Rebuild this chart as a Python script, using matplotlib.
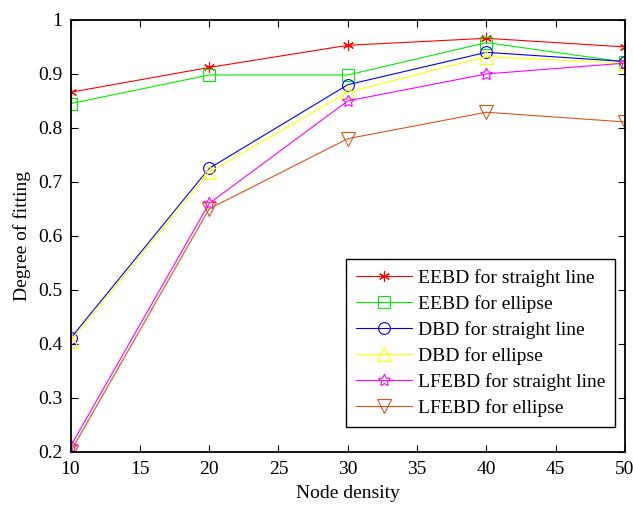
import numpy as np
import matplotlib.pyplot as plt

plt.rcParams['font.family'] = ['Liberation Serif', 'DejaVu Serif']
plt.rcParams['font.size'] = 14

x = [10, 20, 30, 40, 50]
eebd_line = [0.866, 0.912, 0.953, 0.966, 0.950]
eebd_ellipse = [0.845, 0.898, 0.898, 0.958, 0.922]
dbd_line = [0.410, 0.725, 0.880, 0.940, 0.923]
dbd_ellipse = [0.405, 0.718, 0.866, 0.932, 0.920]
lfebd_line = [0.210, 0.660, 0.850, 0.900, 0.920]
lfebd_ellipse = [0.200, 0.650, 0.780, 0.829, 0.811]

labels = ["EEBD for straight line", "EEBD for ellipse", "DBD for straight line",
          "DBD for ellipse", "LFEBD for straight line", "LFEBD for ellipse"]

fig = plt.figure(figsize=(6.33, 5.05), dpi=100)
ax = fig.add_axes([0.1114, 0.1055, 0.876, 0.855])

series = [eebd_line, eebd_ellipse, dbd_line, dbd_ellipse, lfebd_line, lfebd_ellipse]
colors = ["#ff0000", "#00ee00", "#0000ff", "#ffff00", "#ff00ff", "#d9541a"]
markers = [(6, 2, 0), "s", "o", "^", (5, 1, 0), "v"]
sizes = [8, 8.5, 8.5, 9.5, 9, 9.5]

for ys, c, m, ms, lab in zip(series, colors, markers, sizes, labels):
    ax.plot(x, ys, color=c, lw=0.8, marker=m, ms=ms, mfc="none",
            mec=c, mew=0.8, label=lab)

ax.set_xlim(10, 50)
ax.set_ylim(0.2, 1.0)
ax.set_xticks(np.arange(10, 51, 5))
ax.set_yticks(np.arange(0.2, 1.01, 0.1))
ax.set_yticklabels(["0.2", "0.3", "0.4", "0.5", "0.6", "0.7", "0.8", "0.9", "1"])
ax.tick_params(direction="in", top=True, right=True, length=5, width=0.8,
               labelsize=14)
ax.tick_params(axis="x", pad=7)
ax.tick_params(axis="y", pad=6)
for s in ax.spines.values():
    s.set_linewidth(1.3)
ax.set_xlabel("Node density", fontsize=14, labelpad=5)
ax.set_ylabel("Degree of fitting", fontsize=14, labelpad=5)

leg = ax.legend(loc="lower right", bbox_to_anchor=(0.982, 0.058), fancybox=False,
                edgecolor="black", framealpha=1, fontsize=14, handlelength=2.9,
                labelspacing=0.42, borderpad=0.5, handletextpad=0.3,
                borderaxespad=0)
leg.get_frame().set_linewidth(1.0)

fig.savefig("out.png", dpi=100)
